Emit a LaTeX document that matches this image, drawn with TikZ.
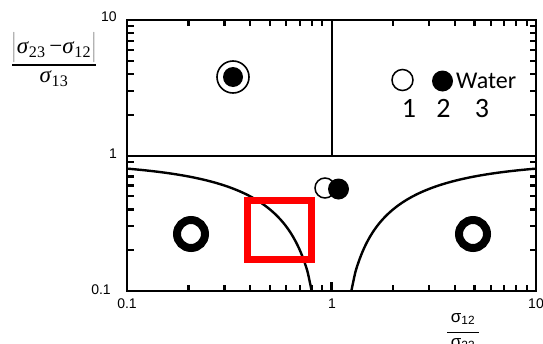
\documentclass[tikz,border=0pt]{standalone}
\usepackage{fontspec}
\setmainfont{Liberation Serif}
\newfontfamily\arialf{Liberation Sans}
\newfontfamily\calibf{Carlito}
\begin{document}
\begin{tikzpicture}[x=1pt,y=-1pt,
  axis/.style={line width=2pt},
  curve/.style={line width=2.4pt},
  vtick/.style={rectangle, fill=black, draw=none, minimum width=2.2pt, minimum height=6pt, inner sep=0, outer sep=0},
  htick/.style={rectangle, fill=black, draw=none, minimum width=6.5pt, minimum height=2.2pt, inner sep=0, outer sep=0},
  ticklab/.style={font=\arialf\fontsize{14}{14}\selectfont, inner sep=0},
  openmk/.style={circle, draw, line width=1.5pt, fill=white, minimum size=20pt, inner sep=0},
  fillmk/.style={circle, fill=black, minimum size=21pt, inner sep=0},
  ringmk/.style={circle, draw, line width=8pt, minimum size=28pt, inner sep=0},
  legtext/.style={font=\calibf\fontsize{24}{24}\selectfont, inner sep=0, anchor=base west},
  legnum/.style={font=\calibf\fontsize{28}{28}\selectfont, inner sep=0, anchor=base},
  ylab/.style={font=\fontsize{23}{23}\selectfont, inner sep=0},
  xlab/.style={font=\arialf\fontsize{17}{17}\selectfont, inner sep=0},
]
\useasboundingbox (0,0) rectangle (543,343);
% frame
\coordinate (bl) at (127,291);
\coordinate (tr) at (536,20);
\draw[axis] (bl) rectangle (tr);
\coordinate (yl) at (127,155.5);
\coordinate (yr) at (536,155.5);
\draw[axis] (yl) -- (yr);
\coordinate (xt) at (331.5,20);
\coordinate (xm) at (331.5,155.5);
\draw[axis] (xt) -- (xm);
% ticks
\node[vtick, minimum height=9pt, anchor=south] (tmaj) at (331.5,291) {};
\foreach \px [count=\i] in {188.56,224.57,250.12,269.94,286.13,299.82,311.68,322.14,393.06,429.07,454.62,474.44,490.63,504.32,516.18,526.64} {
  \node[vtick, anchor=south] (tb-\i) at (\px,291) {};
  \node[vtick, anchor=north] (tt-\i) at (\px,20) {};
}
\foreach \py [count=\i] in {250.21,226.35,209.42,196.29,185.56,176.49,168.63,161.70,114.71,90.85,73.92,60.79,50.06,40.99,33.13,26.20} {
  \node[htick, anchor=west] (tl-\i) at (127,\py) {};
  \node[htick, anchor=east] (tr-\i) at (536,\py) {};
}
% tick labels
\node[ticklab] (yt10) at (109,17) {10};
\node[ticklab] (yt1) at (113,154) {1};
\node[ticklab] (yt01) at (101,290) {0.1};
\node[ticklab] (xt01) at (127,304) {0.1};
\node[ticklab] (xt1) at (332,304) {1};
\node[ticklab] (xt10) at (536,304) {10};
% curves  (y = 0.9 - x and its mirror)
\draw[curve] plot[domain=-1:-0.09691, samples=90, smooth] ({331.5+204.5*\x}, {155.5-135.5*log10(0.9-10^\x)});
\draw[curve] plot[domain=-1:-0.09691, samples=90, smooth] ({331.5-204.5*\x}, {155.5-135.5*log10(0.9-10^\x)});
% markers
\node[circle, draw, line width=1.6pt, minimum size=32pt, inner sep=0] (tgt) at (233,77) {};
\node[fillmk, minimum size=20pt] (tgtc) at (233,77) {};
\node[openmk] (cen1) at (325,188) {};
\node[fillmk] (cen2) at (338.5,189) {};
\node[ringmk] (ringl) at (191,234) {};
\node[ringmk] (ringr) at (473,234) {};
% legend
\node[openmk, minimum size=21pt] (leg1) at (402.5,80) {};
\node[fillmk] (leg2) at (442.5,81) {};
\node[legtext] (legw) at (456,88) {Water};
\node[legnum] (n1) at (409,117) {1};
\node[legnum] (n2) at (443.5,117) {2};
\node[legnum] (n3) at (482,117) {3};
% highlight
\node[draw=red, line width=7pt, minimum width=64pt, minimum height=59pt, inner sep=0] (hl) at (279.5,230) {};
% y label
\node[ylab] (ynum) at (54,47) {$\left|\vbox to 22pt{}\right.$\textit{σ}\textsubscript{23}\,−\textit{σ}\textsubscript{12}$\left.\vbox to 22pt{}\right|$};
\coordinate (ybl) at (12,65);
\coordinate (ybr) at (96,65);
\draw[line width=1.3pt] (ybl) -- (ybr);
\node[ylab] (yden) at (54,79) {\textit{σ}\textsubscript{13}};
% x label
\node[xlab] (xnum) at (463,319) {σ\textsubscript{12}};
\coordinate (xbl) at (447,332);
\coordinate (xbr) at (479,332);
\draw[line width=1pt] (xbl) -- (xbr);
\node[xlab] (xden) at (463,344) {σ\textsubscript{23}};
\end{tikzpicture}
\end{document}
